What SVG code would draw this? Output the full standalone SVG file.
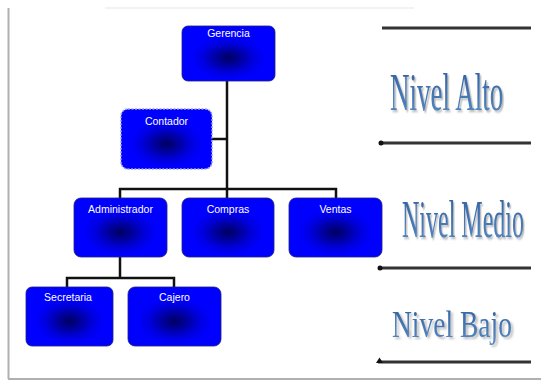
<svg xmlns="http://www.w3.org/2000/svg" width="541" height="383" viewBox="0 0 541 383">
<defs>
<radialGradient id="boxg" cx="0.5" cy="0.58" r="0.5">
<stop offset="0" stop-color="#000060"/>
<stop offset="0.55" stop-color="#0000e0"/>
<stop offset="0.8" stop-color="#0000ff"/>
<stop offset="1" stop-color="#0000ff"/>
</radialGradient>
<linearGradient id="txtg" x1="0" y1="0" x2="0" y2="1">
<stop offset="0" stop-color="#2c5f9e"/>
<stop offset="1" stop-color="#5a8cc4"/>
</linearGradient>
<filter id="soft" x="-5%" y="-5%" width="110%" height="110%">
<feGaussianBlur stdDeviation="0.6"/>
</filter>
<filter id="drop" x="-10%" y="-20%" width="130%" height="160%">
<feDropShadow dx="3" dy="2" stdDeviation="1.2" flood-color="#888888" flood-opacity="0.6"/>
</filter>
</defs>
<style>
.box{fill:url(#boxg);stroke:#1a1a80;stroke-width:0.8;filter:url(#soft)}
.dash{stroke:#9a9aff;stroke-width:1.5;stroke-dasharray:2 1.5}
.lbl{font-family:"Liberation Sans",Arial,sans-serif;font-size:10.5px;fill:#ffffff;text-anchor:middle}
.conn{stroke:#111111;stroke-width:2.5;fill:none}
.lvl{stroke:#333333;stroke-width:3}
.big{font-family:"Liberation Serif","Times New Roman",serif;fill:url(#txtg);filter:url(#drop)}
</style>
<rect x="0" y="0" width="541" height="383" fill="#ffffff"/>
<g id="frame">
<line x1="105" y1="8" x2="414" y2="8" stroke="#eeeeee" stroke-width="1.5"/>
<line x1="8.5" y1="8" x2="8.5" y2="379" stroke="#b0b0b0" stroke-width="2"/>
<line x1="8" y1="379" x2="541" y2="379" stroke="#b0b0b0" stroke-width="2"/>
</g>
<g id="connectors">
<path class="conn" d="M227 81 V190"/>
<path class="conn" d="M212 139 H227"/>
<path class="conn" d="M120 198 V189 H336 V198"/>
<path class="conn" d="M227 189 V198"/>
<path class="conn" d="M120 257 V278"/>
<path class="conn" d="M67 287 V278 H174 V287"/>
</g>
<g id="gerencia"><rect class="box" x="182" y="26" width="93" height="55" rx="6"/><text class="lbl" x="228.5" y="37">Gerencia</text></g>
<g id="contador"><rect class="box dash" x="121" y="109" width="91" height="60" rx="7"/><text class="lbl" x="166.5" y="125">Contador</text></g>
<g id="administrador"><rect class="box" x="74" y="198" width="93" height="59" rx="7"/><text class="lbl" x="120.5" y="213">Administrador</text></g>
<g id="compras"><rect class="box" x="182" y="198" width="92" height="59" rx="7"/><text class="lbl" x="228" y="213">Compras</text></g>
<g id="ventas"><rect class="box" x="289" y="198" width="93" height="59" rx="7"/><text class="lbl" x="335.5" y="213">Ventas</text></g>
<g id="secretaria"><rect class="box" x="26" y="287" width="87" height="59" rx="6"/><text class="lbl" x="68" y="301">Secretaria</text></g>
<g id="cajero"><rect class="box" x="128" y="287" width="93" height="59" rx="7"/><text class="lbl" x="174.5" y="301">Cajero</text></g>
<g id="levels">
<line class="lvl" x1="382" y1="28" x2="531" y2="28"/>
<line class="lvl" x1="381" y1="143" x2="531" y2="143"/>
<circle cx="381" cy="143" r="2.5" fill="#111"/>
<line class="lvl" x1="380" y1="268" x2="531" y2="268"/>
<circle cx="380" cy="268" r="2.5" fill="#111"/>
<line class="lvl" x1="378" y1="362" x2="531" y2="362"/>
<path d="M376 363 L379.5 357.5 L383 363 Z" fill="#111"/>
<text class="big" transform="translate(390,110) scale(0.51,1)" x="0" y="0" font-size="53">Nivel Alto</text>
<text class="big" transform="translate(402,237) scale(0.453,1)" x="0" y="0" font-size="53">Nivel Medio</text>
<text class="big" transform="translate(392,337) scale(0.724,1)" x="0" y="0" font-size="38">Nivel Bajo</text>
</g>
</svg>
